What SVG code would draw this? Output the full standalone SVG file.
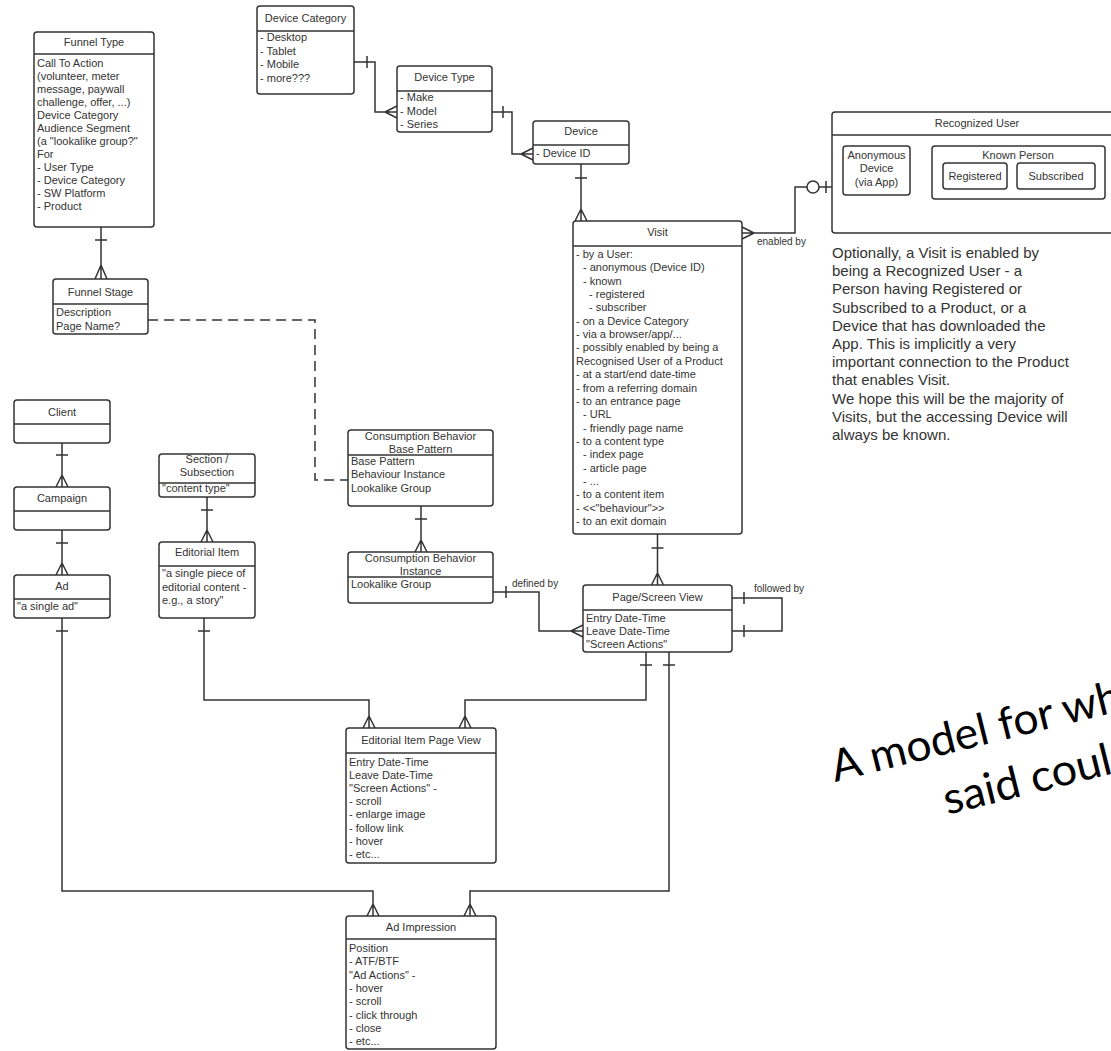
<svg xmlns="http://www.w3.org/2000/svg" width="1111" height="1051" viewBox="0 0 1111 1051">
<style>
.box{fill:#fff;stroke:#333;stroke-width:1.5}
.dv{stroke:#333;stroke-width:1.5}
.t{font-family:"Liberation Sans",Arial,sans-serif;font-size:11px;fill:#333}
.s{font-family:"Liberation Sans",Arial,sans-serif;font-size:10px;fill:#333}
.c{text-anchor:middle}
.ln{fill:none;stroke:#333;stroke-width:1.5}
.dash{stroke-dasharray:10 6}
.note{font-family:"Liberation Sans",Arial,sans-serif;font-size:15px;fill:#333}
.big{font-family:Lato,"Open Sans",sans-serif;font-size:44px;fill:#000}
</style>
<rect width="1111" height="1051" fill="#fff"/>

<g id="connectors">
<!-- Funnel Type -> Funnel Stage -->
<path class="ln" d="M101,227V279M95,240H107M101,265L95,279M101,265L107,279"/>
<!-- Funnel Stage -> Base Pattern (dashed) -->
<path class="ln dash" d="M148,320H315V480H348"/>
<!-- Device Category -> Device Type -->
<path class="ln" d="M354,62H375V112H397M367,56V68M385,112L397,106M385,112L397,118"/>
<!-- Device Type -> Device -->
<path class="ln" d="M492,112H512V154H533M503,106V118M521,154L533,148M521,154L533,160"/>
<!-- Device -> Visit -->
<path class="ln" d="M581,164V221M575,178H587M581,209L575,221M581,209L587,221"/>
<!-- Visit -> Recognized User -->
<path class="ln" d="M742,233H795V187H832M754,233L742,227M754,233L742,239M826,181V193"/>
<circle cx="813" cy="187" r="6" fill="#fff" stroke="#333" stroke-width="1.5"/>
<text class="s" x="757" y="245">enabled by</text>
<!-- Visit -> PSV -->
<path class="ln" d="M657.5,534V585M651.5,548H663.5M657.5,573L651.5,585M657.5,573L663.5,585"/>
<!-- Instance -> PSV -->
<path class="ln" d="M493,592H539V631H583M506,586V598M571,631L583,625M571,631L583,637"/>
<text class="s" x="512" y="587">defined by</text>
<!-- PSV self -->
<path class="ln" d="M732,598H782V631H732M744,592V604M744,625V637"/>
<text class="s" x="754" y="592">followed by</text>
<!-- PSV -> EIPV -->
<path class="ln" d="M646,652V700H465V728M640,665H652M465,716L459,728M465,716L471,728"/>
<!-- PSV -> Ad Impression -->
<path class="ln" d="M669,652V891H470V916M663,665H675M470,904L464,916M470,904L476,916"/>
<!-- Base -> Instance -->
<path class="ln" d="M421,506V552M415,519H427M421,540L415,552M421,540L427,552"/>
<!-- Section -> Editorial -->
<path class="ln" d="M207,497V542M201,510H213M207,530L201,542M207,530L213,542"/>
<!-- Editorial -> EIPV -->
<path class="ln" d="M204,618V700H369V728M198,631H210M369,716L363,728M369,716L375,728"/>
<!-- Client -> Campaign -->
<path class="ln" d="M62,443V487M56,455H68M62,475L56,487M62,475L68,487"/>
<!-- Campaign -> Ad -->
<path class="ln" d="M62,530V575M56,543H68M62,563L56,575M62,563L68,575"/>
<!-- Ad -> Ad Impression -->
<path class="ln" d="M62,618V891H373V916M56,631H68M373,904L367,916M373,904L379,916"/>
</g>

<g id="funnel-type">
<rect class="box" x="34" y="32" width="120" height="195" rx="3"/>
<line class="dv" x1="34" y1="54" x2="154" y2="54"/>
<text class="t c" x="94" y="46">Funnel Type</text>
<text class="t" x="37" y="67">Call To Action</text>
<text class="t" x="37" y="80">(volunteer, meter</text>
<text class="t" x="37" y="93">message, paywall</text>
<text class="t" x="37" y="106">challenge, offer, ...)</text>
<text class="t" x="37" y="119">Device Category</text>
<text class="t" x="37" y="132">Audience Segment</text>
<text class="t" x="37" y="145">(a "lookalike group?"</text>
<text class="t" x="37" y="158">For</text>
<text class="t" x="37" y="171">- User Type</text>
<text class="t" x="37" y="184">- Device Category</text>
<text class="t" x="37" y="197">- SW Platform</text>
<text class="t" x="37" y="210">- Product</text>
</g>

<g id="funnel-stage">
<rect class="box" x="53" y="279" width="95" height="55" rx="3"/>
<line class="dv" x1="53" y1="304" x2="148" y2="304"/>
<text class="t c" x="100.5" y="296">Funnel Stage</text>
<text class="t" x="56" y="316">Description</text>
<text class="t" x="56" y="330">Page Name?</text>
</g>

<g id="device-category">
<rect class="box" x="257" y="6" width="97" height="88" rx="3"/>
<line class="dv" x1="257" y1="31" x2="354" y2="31"/>
<text class="t c" x="305.5" y="22">Device Category</text>
<text class="t" x="260" y="41">- Desktop</text>
<text class="t" x="260" y="54.5">- Tablet</text>
<text class="t" x="260" y="68">- Mobile</text>
<text class="t" x="260" y="81.5">- more???</text>
</g>

<g id="device-type">
<rect class="box" x="397" y="66" width="95" height="66" rx="3"/>
<line class="dv" x1="397" y1="91" x2="492" y2="91"/>
<text class="t c" x="444.5" y="81">Device Type</text>
<text class="t" x="400" y="101">- Make</text>
<text class="t" x="400" y="114.5">- Model</text>
<text class="t" x="400" y="128">- Series</text>
</g>

<g id="device">
<rect class="box" x="533" y="121" width="96" height="43" rx="3"/>
<line class="dv" x1="533" y1="145" x2="629" y2="145"/>
<text class="t c" x="581" y="135">Device</text>
<text class="t" x="536" y="157">- Device ID</text>
</g>

<g id="visit">
<rect class="box" x="573" y="221" width="169" height="313" rx="3"/>
<line class="dv" x1="573" y1="246" x2="742" y2="246"/>
<text class="t c" x="657.5" y="236">Visit</text>
<text class="t" x="576" y="258">- by a User:</text>
<text class="t" x="583" y="271.35">- anonymous (Device ID)</text>
<text class="t" x="583" y="284.7">- known</text>
<text class="t" x="589" y="298.05">- registered</text>
<text class="t" x="589" y="311.4">- subscriber</text>
<text class="t" x="576" y="324.75">- on a Device Category</text>
<text class="t" x="576" y="338.1">- via a browser/app/...</text>
<text class="t" x="576" y="351.45">- possibly enabled by being a</text>
<text class="t" x="576" y="364.8">Recognised User of a Product</text>
<text class="t" x="576" y="378.15">- at a start/end date-time</text>
<text class="t" x="576" y="391.5">- from a referring domain</text>
<text class="t" x="576" y="404.85">- to an entrance page</text>
<text class="t" x="583" y="418.2">- URL</text>
<text class="t" x="583" y="431.55">- friendly page name</text>
<text class="t" x="576" y="444.9">- to a content type</text>
<text class="t" x="583" y="458.25">- index page</text>
<text class="t" x="583" y="471.6">- article page</text>
<text class="t" x="583" y="484.95">- ...</text>
<text class="t" x="576" y="498.3">- to a content item</text>
<text class="t" x="576" y="511.65">- &lt;&lt;"behaviour"&gt;&gt;</text>
<text class="t" x="576" y="525">- to an exit domain</text>
</g>

<g id="recognized-user">
<rect class="box" x="832" y="112" width="290" height="121" rx="3"/>
<line class="dv" x1="832" y1="135" x2="1122" y2="135"/>
<text class="t c" x="977" y="127">Recognized User</text>
<g id="anonymous-device">
<rect class="box" x="843" y="146" width="67" height="49" rx="3"/>
<text class="t c" x="876.5" y="159">Anonymous</text>
<text class="t c" x="876.5" y="172">Device</text>
<text class="t c" x="876.5" y="186">(via App)</text>
</g>
<g id="known-person">
<rect class="box" x="932" y="146" width="173" height="53" rx="3"/>
<text class="t c" x="1018" y="159">Known Person</text>
<rect class="box" x="943" y="163" width="64" height="26" rx="3"/>
<text class="t c" x="975" y="180">Registered</text>
<rect class="box" x="1017" y="163" width="78" height="26" rx="3"/>
<text class="t c" x="1056" y="180">Subscribed</text>
</g>
</g>

<g id="note">
<text class="note" x="832" y="258">Optionally, a Visit is enabled by</text>
<text class="note" x="832" y="276.2">being a Recognized User - a</text>
<text class="note" x="832" y="294.4">Person having Registered or</text>
<text class="note" x="832" y="312.6">Subscribed to a Product, or a</text>
<text class="note" x="832" y="330.8">Device that has downloaded the</text>
<text class="note" x="832" y="349">App. This is implicitly a very</text>
<text class="note" x="832" y="367.2">important connection to the Product</text>
<text class="note" x="832" y="385.4">that enables Visit.</text>
<text class="note" x="832" y="403.6">We hope this will be the majority of</text>
<text class="note" x="832" y="421.8">Visits, but the accessing Device will</text>
<text class="note" x="832" y="440">always be known.</text>
</g>

<g id="page-screen-view">
<rect class="box" x="583" y="585" width="149" height="67" rx="3"/>
<line class="dv" x1="583" y1="610" x2="732" y2="610"/>
<text class="t c" x="657.5" y="601">Page/Screen View</text>
<text class="t" x="586" y="622">Entry Date-Time</text>
<text class="t" x="586" y="635">Leave Date-Time</text>
<text class="t" x="586" y="648">"Screen Actions"</text>
</g>

<g id="base-pattern">
<rect class="box" x="348" y="430" width="145" height="76" rx="3"/>
<line class="dv" x1="348" y1="455" x2="493" y2="455"/>
<text class="t c" x="420.5" y="440">Consumption Behavior</text>
<text class="t c" x="420.5" y="453">Base Pattern</text>
<text class="t" x="351" y="465">Base Pattern</text>
<text class="t" x="351" y="478">Behaviour Instance</text>
<text class="t" x="351" y="492">Lookalike Group</text>
</g>

<g id="behavior-instance">
<rect class="box" x="348" y="552" width="145" height="51" rx="3"/>
<line class="dv" x1="348" y1="577" x2="493" y2="577"/>
<text class="t c" x="420.5" y="562">Consumption Behavior</text>
<text class="t c" x="420.5" y="575">Instance</text>
<text class="t" x="351" y="588">Lookalike Group</text>
</g>

<g id="section">
<rect class="box" x="159" y="454" width="96" height="43" rx="3"/>
<line class="dv" x1="159" y1="483" x2="255" y2="483"/>
<text class="t c" x="207" y="463">Section /</text>
<text class="t c" x="207" y="476">Subsection</text>
<text class="t" x="162" y="492">"content type"</text>
</g>

<g id="editorial-item">
<rect class="box" x="159" y="542" width="96" height="76" rx="3"/>
<line class="dv" x1="159" y1="566" x2="255" y2="566"/>
<text class="t c" x="207" y="556">Editorial Item</text>
<text class="t" x="162" y="577">"a single piece of</text>
<text class="t" x="162" y="591">editorial content -</text>
<text class="t" x="162" y="604">e.g., a story"</text>
</g>

<g id="client">
<rect class="box" x="14" y="400" width="96" height="43" rx="3"/>
<line class="dv" x1="14" y1="424" x2="110" y2="424"/>
<text class="t c" x="62" y="416">Client</text>
</g>

<g id="campaign">
<rect class="box" x="14" y="487" width="96" height="43" rx="3"/>
<line class="dv" x1="14" y1="511" x2="110" y2="511"/>
<text class="t c" x="62" y="502">Campaign</text>
</g>

<g id="ad">
<rect class="box" x="14" y="575" width="96" height="43" rx="3"/>
<line class="dv" x1="14" y1="599" x2="110" y2="599"/>
<text class="t c" x="62" y="590">Ad</text>
<text class="t" x="17" y="610">"a single ad"</text>
</g>

<g id="editorial-item-page-view">
<rect class="box" x="346" y="728" width="150" height="135" rx="3"/>
<line class="dv" x1="346" y1="753" x2="496" y2="753"/>
<text class="t c" x="421" y="744">Editorial Item Page View</text>
<text class="t" x="349" y="766">Entry Date-Time</text>
<text class="t" x="349" y="779">Leave Date-Time</text>
<text class="t" x="349" y="792">"Screen Actions" -</text>
<text class="t" x="349" y="805">- scroll</text>
<text class="t" x="349" y="818">- enlarge image</text>
<text class="t" x="349" y="832">- follow link</text>
<text class="t" x="349" y="845">- hover</text>
<text class="t" x="349" y="858">- etc...</text>
</g>

<g id="ad-impression">
<rect class="box" x="346" y="916" width="150" height="133" rx="3"/>
<line class="dv" x1="346" y1="939" x2="496" y2="939"/>
<text class="t c" x="421" y="931">Ad Impression</text>
<text class="t" x="349" y="952">Position</text>
<text class="t" x="349" y="965.3">- ATF/BTF</text>
<text class="t" x="349" y="978.6">"Ad Actions" -</text>
<text class="t" x="349" y="991.9">- hover</text>
<text class="t" x="349" y="1005.2">- scroll</text>
<text class="t" x="349" y="1018.5">- click through</text>
<text class="t" x="349" y="1031.8">- close</text>
<text class="t" x="349" y="1045">- etc...</text>
</g>

<g id="caption" transform="rotate(-14 835 782)">
<text class="big" x="835" y="782" textLength="298" lengthAdjust="spacingAndGlyphs">A model for wh</text>
<text class="big" x="936" y="841" textLength="172" lengthAdjust="spacingAndGlyphs">said coul</text>
</g>
</svg>
